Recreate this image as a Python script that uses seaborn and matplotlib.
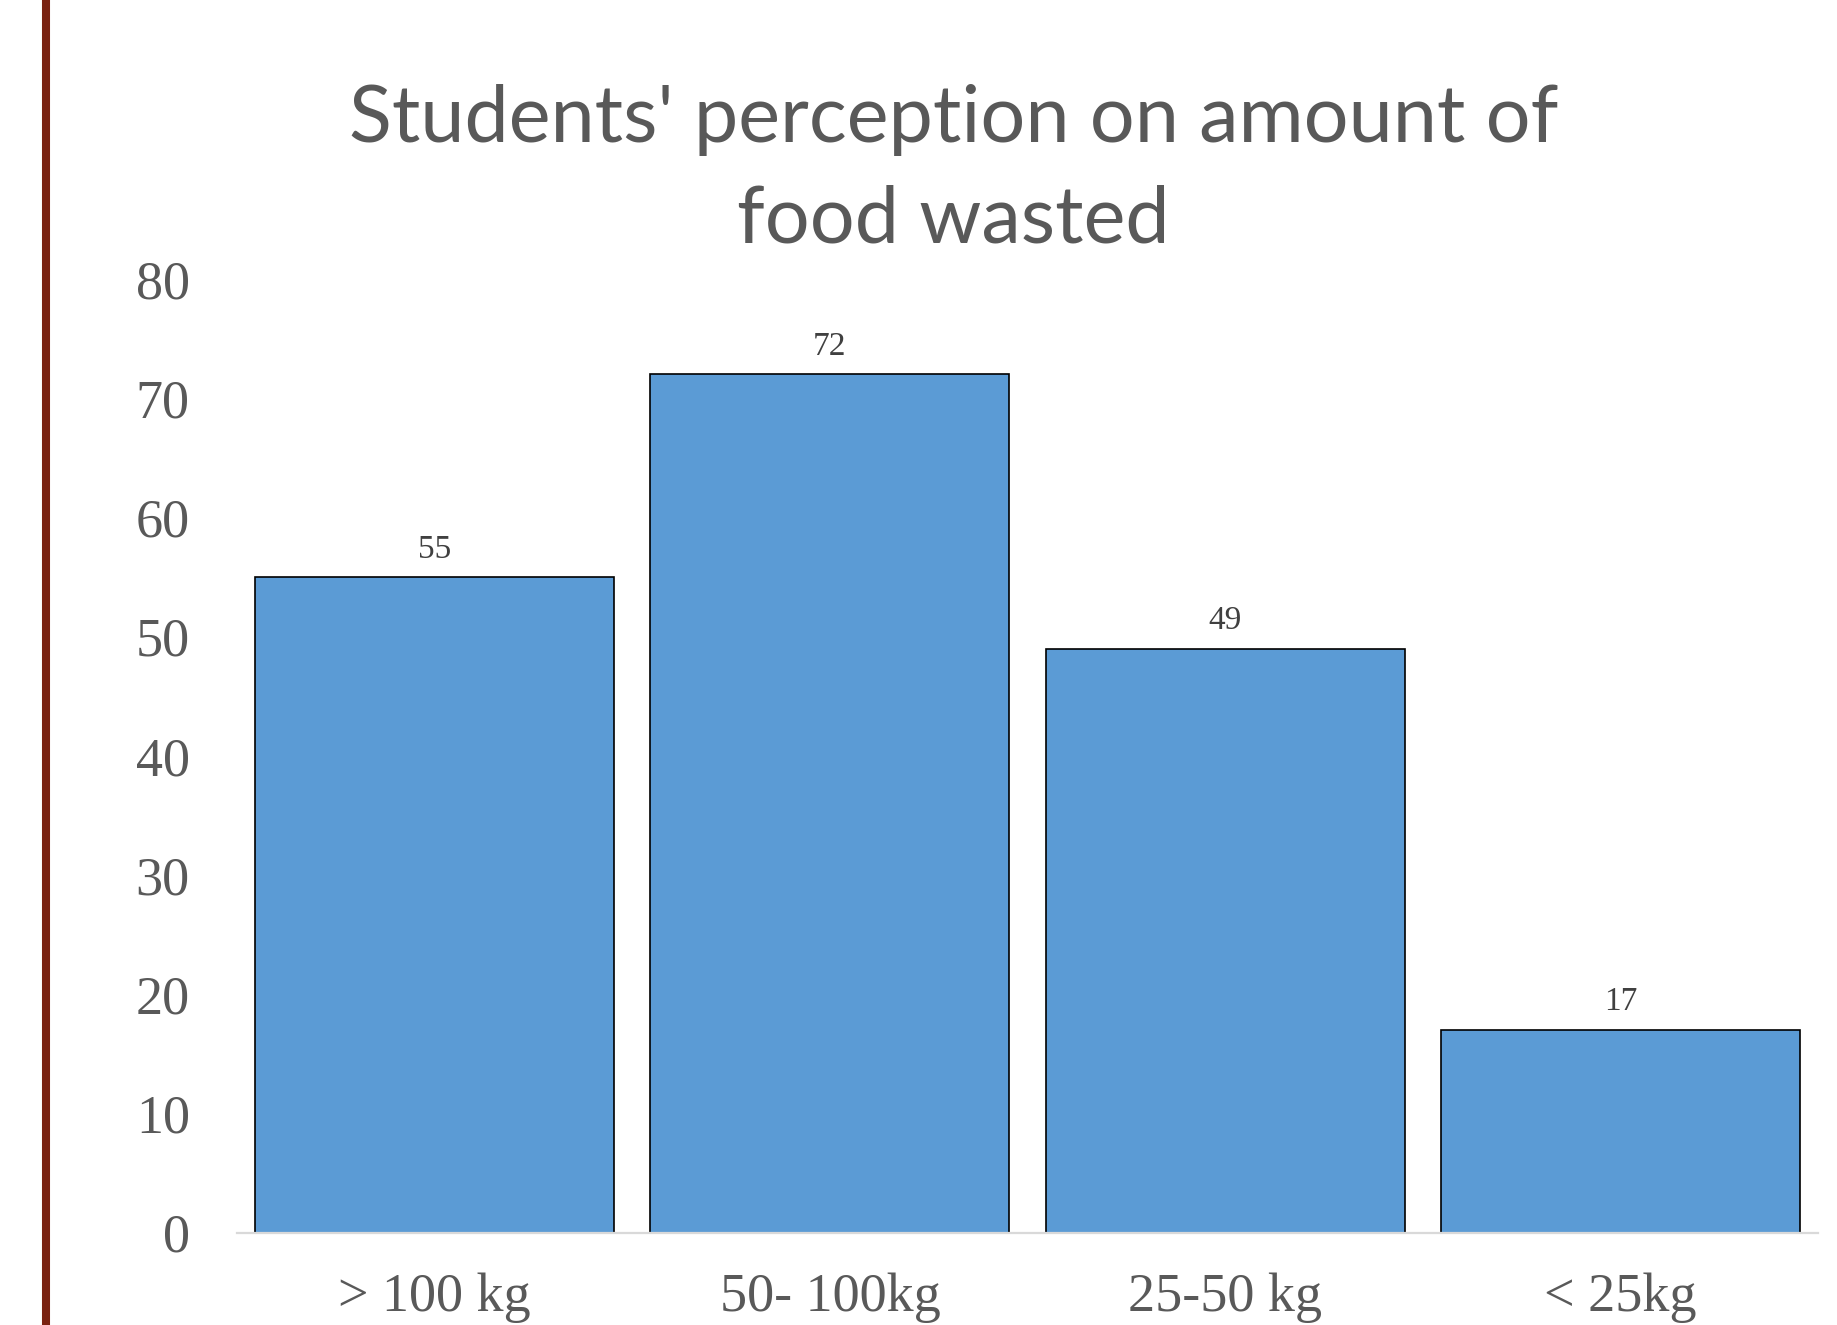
import matplotlib
matplotlib.use("Agg")
import matplotlib.pyplot as plt
from matplotlib.lines import Line2D
import seaborn as sns
import pandas as pd

# Survey responses: perceived amount of food wasted
categories = ["> 100 kg", "50- 100kg", "25-50 kg", "< 25kg"]
counts = [55, 72, 49, 17]
y_ticks = [0, 10, 20, 30, 40, 50, 60, 70, 80]
title_text = "Students' perception on amount of\nfood wasted"

sns.set_style("white")
plt.rcParams["font.family"] = ["Liberation Serif", "DejaVu Serif"]

df = pd.DataFrame({"category": categories, "count": counts})

fig = plt.figure(figsize=(18.37, 13.25), dpi=100)
ax = fig.add_axes([0.129, 0.0698, 0.8607, 0.7196])

sns.barplot(data=df, x="category", y="count", color="#5B9BD5", saturation=1,
            width=0.908, edgecolor="black", linewidth=1.2, ax=ax)

ax.set_xlim(-0.5, len(categories) - 0.5)
ax.set_ylim(0, 80)
ax.set_yticks(y_ticks)
ax.set_xlabel("")
ax.set_ylabel("")

for side in ["top", "right", "left"]:
    ax.spines[side].set_visible(False)
ax.spines["bottom"].set_color("#D9D9D9")
ax.spines["bottom"].set_linewidth(1.6)

ax.tick_params(axis="y", length=0, pad=34, labelsize=39, labelcolor="#595959")
ax.tick_params(axis="x", length=0, pad=29, labelsize=39, labelcolor="#595959")

# value labels above each bar
for i, v in enumerate(counts):
    ax.annotate(str(v), xy=(i, v), xytext=(0, 14), textcoords="offset points",
                ha="center", va="baseline", fontsize=24, color="#404040",
                family=["Liberation Serif", "DejaVu Serif"])

fig.text(0.519, 0.8715, title_text, ha="center", va="center", fontsize=57,
         color="#595959", family=["Lato", "DejaVu Sans"], linespacing=1.5)

# decorative vertical rule on the left edge
fig.add_artist(Line2D([46 / 1837, 46 / 1837], [0, 1], transform=fig.transFigure,
                      color="#7A2211", linewidth=5.8, solid_capstyle="butt"))

fig.savefig("out.png", dpi=100, facecolor="white")
